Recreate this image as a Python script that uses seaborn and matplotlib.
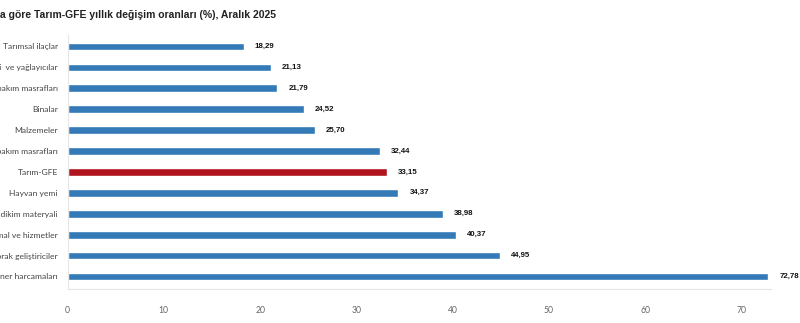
import matplotlib
matplotlib.use("Agg")
import matplotlib.pyplot as plt
import seaborn as sns
import pandas as pd

categories = [
    "Tarımsal ilaçlar",
    "Enerji  ve yağlayıcılar",
    "Makine bakım masrafları",
    "Binalar",
    "Malzemeler",
    "Bina bakım masrafları",
    "Tarım-GFE",
    "Hayvan yemi",
    "Tohum ve dikim materyali",
    "Diğer mal ve hizmetler",
    "Gübre ve toprak geliştiriciler",
    "Veteriner harcamaları",
]
values = [18.29, 21.13, 21.79, 24.52, 25.70, 32.44, 33.15, 34.37, 38.98, 40.37, 44.95, 72.78]
highlight = "Tarım-GFE"
x_ticks = [0, 10, 20, 30, 40, 50, 60, 70]
title = "Alt gruplara göre Tarım-GFE yıllık değişim oranları (%), Aralık 2025"

BLUE = "#337ab7"
RED = "#b0141c"

sns.set_theme(style="white")
plt.rcParams["font.family"] = ["Liberation Sans", "DejaVu Sans"]
LABEL_FONT = ["Lato", "DejaVu Sans"]

df = pd.DataFrame({"cat": categories, "val": values})
palette = {c: (RED if c == highlight else BLUE) for c in categories}

fig = plt.figure(figsize=(8.0, 3.23), dpi=100)
ax = fig.add_axes([67.5 / 800, 1 - 289 / 323, 703 / 800, (289 - 35) / 323])

sns.barplot(data=df, x="val", y="cat", hue="cat", palette=palette, legend=False,
            width=0.37, ax=ax, orient="h", saturation=1)

ax.set_xlim(0, 73)
ax.set_ylim(11.6, -0.55)
ax.set_xticks(x_ticks)
ax.set_xticklabels([str(t) for t in x_ticks])
for lbl in ax.get_xticklabels():
    lbl.set_family(LABEL_FONT)
    lbl.set_fontsize(6.2)
    lbl.set_color("#666666")
for lbl in ax.get_yticklabels():
    lbl.set_family(LABEL_FONT)
    lbl.set_fontsize(6.1)
    lbl.set_color("#444444")
ax.tick_params(axis="x", length=0, pad=12)
ax.tick_params(axis="y", length=0, pad=7)
ax.set_xlabel("")
ax.set_ylabel("")

for s in ["top", "right"]:
    ax.spines[s].set_visible(False)
ax.spines["left"].set_color("#e6e6e6")
ax.spines["bottom"].set_color("#e6e6e6")
ax.spines["left"].set_linewidth(0.8)
ax.spines["bottom"].set_linewidth(0.8)

for i, v in enumerate(values):
    ax.annotate(f"{v:.2f}".replace(".", ","), xy=(v, i), xytext=(11, 0),
                textcoords="offset pixels",
                va="center", ha="left", fontsize=5.7, fontweight="bold", color="#111111",
                annotation_clip=False)

fig.text(276 / 800, 1 - 15 / 323, title, ha="right", va="center",
         fontsize=7.45, fontweight="bold", color="#222222")

fig.savefig("out.png", dpi=100)
